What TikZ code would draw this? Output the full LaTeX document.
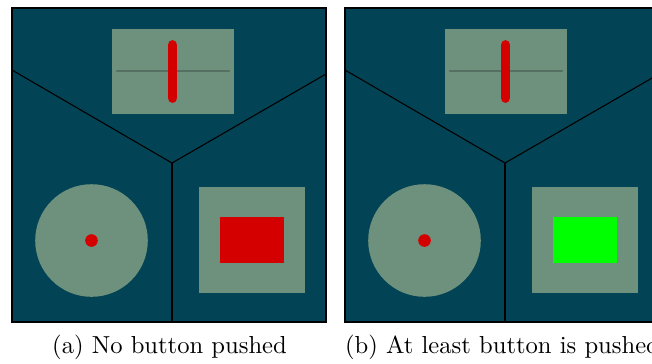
\documentclass[tikz,border=0pt]{standalone}
\definecolor{bg}{RGB}{2,68,85}
\definecolor{pale}{RGB}{110,145,125}
\definecolor{markc}{RGB}{85,112,98}
\definecolor{lamp}{RGB}{212,0,0}
\definecolor{lampon}{RGB}{0,255,0}
\begin{document}
\begin{tikzpicture}[x=0.4065pt,y=-0.4065pt]
\useasboundingbox (0,0) rectangle (652,363);
\fill[white] (0,0) rectangle (652,363);
\foreach \ox/\lc in {0/lamp,333/lampon} {
 \begin{scope}[shift={(\ox,0)}]
  \draw[fill=bg, line width=0.5pt] (12,8) rectangle (326,322);
  \draw[line width=0.45pt] (12,70) -- (172,163) -- (326,74);
  \draw[line width=0.45pt] (172,163) -- (172,322);
  \fill[pale] (112,29) rectangle (234,114);
  \draw[markc, line width=1.1pt, line cap=round] (117,71) -- (229,71);
  \draw[lamp, line width=4pt, line cap=round] (172.5,45) -- (172.5,98);
  \fill[pale] (91.5,240.5) circle[radius=56.3];
  \fill[lamp] (91.5,240.5) circle[radius=6.3];
  \fill[pale] (199,187) rectangle (305,293);
  \fill[\lc] (220,217) rectangle (284,263);
 \end{scope}
}
\node[anchor=base, inner sep=0pt] (capa) at (169.5,353) {(a) No button pushed};
\node[anchor=base, inner sep=0pt] (capb) at (502.5,353) {(b) At least button is pushed};
\end{tikzpicture}
\end{document}
